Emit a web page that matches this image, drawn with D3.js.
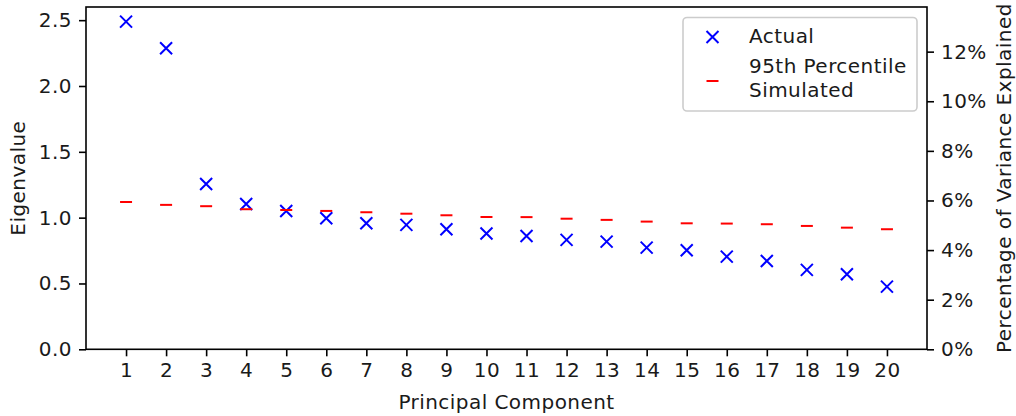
<!DOCTYPE html>
<html><head><meta charset="utf-8">
<script src="https://cdn.jsdelivr.net/npm/d3@7"></script>
<style>
html,body{margin:0;padding:0;background:#fff;}
svg text{font-family:"DejaVu Sans",sans-serif;letter-spacing:0.45px;}
</style></head>
<body><svg id="c" width="1016" height="416"></svg>
<script>
const components = [1,2,3,4,5,6,7,8,9,10,11,12,13,14,15,16,17,18,19,20];
const actual = [2.489,2.287,1.256,1.104,1.051,0.995,0.957,0.945,0.912,0.880,0.861,0.831,0.818,0.772,0.752,0.704,0.671,0.603,0.570,0.476];
const simulated = [1.119,1.097,1.087,1.064,1.058,1.051,1.041,1.030,1.018,1.005,1.004,0.992,0.983,0.970,0.957,0.955,0.950,0.937,0.924,0.912];
const leftTicks = [0,0.5,1.0,1.5,2.0,2.5];
const rightTicks = [0,2,4,6,8,10,12];
const legendLabels = ["Actual", ["95th Percentile","Simulated"]];
const xLabel = "Principal Component", yLabel = "Eigenvalue", y2Label = "Percentage of Variance Explained";

const svg = d3.select("#c");
const L=86, R=927, T=7, B=349.3;
const x = d3.scaleLinear().domain([0,21]).range([L,R]);
const y = d3.scaleLinear().domain([0,2.6]).range([B,T]);
const y2 = d3.scaleLinear().domain([0,13.8]).range([B,T]);
const fs = 20;
const txt = "#1a1a1a";

function styleAxis(g){
  g.selectAll("path").remove();
  g.selectAll("line").attr("stroke","#000").attr("stroke-width",1.6);
  g.selectAll("text").attr("font-size",fs).attr("fill",txt).attr("font-family","DejaVu Sans");
}
svg.append("g").attr("transform",`translate(0,${B})`)
  .call(d3.axisBottom(x).tickValues(components).tickFormat(d3.format("d")).tickSize(7).tickPadding(7))
  .call(styleAxis);
svg.append("g").attr("transform",`translate(${L},0)`)
  .call(d3.axisLeft(y).tickValues(leftTicks).tickFormat(d3.format(".1f")).tickSize(7).tickPadding(7))
  .call(styleAxis);
svg.append("g").attr("transform",`translate(${R},0)`)
  .call(d3.axisRight(y2).tickValues(rightTicks).tickFormat(d=>d+"%").tickSize(7).tickPadding(7))
  .call(styleAxis);

// spines
svg.append("rect").attr("x",L).attr("y",T).attr("width",R-L).attr("height",B-T)
  .attr("fill","none").attr("stroke","#000").attr("stroke-width",1.6);

const ms = 6;
function xMark(g, cx, cy){
  g.append("path").attr("d",`M${cx-ms},${cy-ms}L${cx+ms},${cy+ms}M${cx-ms},${cy+ms}L${cx+ms},${cy-ms}`)
   .attr("stroke","#0000ff").attr("stroke-width",2).attr("fill","none");
}
function dashMark(g, cx, cy){
  g.append("path").attr("d",`M${cx-ms},${cy}L${cx+ms},${cy}`)
   .attr("stroke","#ff0000").attr("stroke-width",2).attr("fill","none");
}
const gA = svg.append("g");
components.forEach((c,i)=>xMark(gA, x(c), y(actual[i])));
const gS = svg.append("g");
components.forEach((c,i)=>dashMark(gS, x(c), y(simulated[i])));

// labels
svg.append("text").attr("x",(L+R)/2).attr("y",408.5).attr("text-anchor","middle")
  .attr("font-size",fs).attr("fill",txt).text(xLabel);
svg.append("text").attr("transform",`translate(25,${(T+B)/2}) rotate(-90)`).attr("text-anchor","middle")
  .attr("font-size",fs).attr("fill",txt).text(yLabel);
svg.append("text").attr("transform",`translate(1011,${(T+B)/2}) rotate(-90)`).attr("text-anchor","middle")
  .attr("font-size",fs).attr("fill",txt).text(y2Label);

// legend
const lg = svg.append("g");
lg.append("rect").attr("x",683).attr("y",17.5).attr("width",234).attr("height",93.5).attr("rx",4)
  .attr("fill","#fff").attr("fill-opacity",0.8).attr("stroke","#cccccc").attr("stroke-width",1.6);
xMark(lg, 712.5, 37);
lg.append("text").attr("x",749).attr("y",43.3).attr("font-size",fs).attr("fill",txt).text(legendLabels[0]);
dashMark(lg, 712.5, 81);
const t2 = lg.append("text").attr("x",749).attr("y",73.3).attr("font-size",fs).attr("fill",txt);
t2.append("tspan").attr("x",749).text(legendLabels[1][0]);
t2.append("tspan").attr("x",749).attr("dy",24).text(legendLabels[1][1]);
</script></body></html>
